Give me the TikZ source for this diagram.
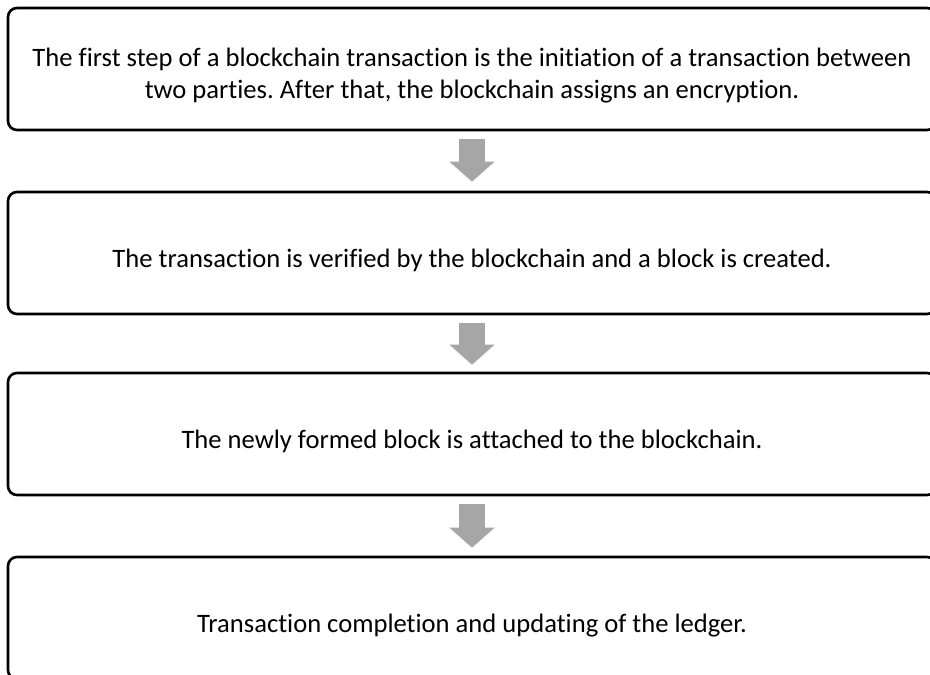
\documentclass[tikz,border=0pt]{standalone}
\usepackage{fontspec}
\setmainfont{Carlito}[Ligatures=NoCommon]
\usetikzlibrary{arrows.meta}
\definecolor{arrowgray}{HTML}{A6A6A6}
\frenchspacing
\begin{document}
\begin{tikzpicture}[x=1pt, y=1pt,
  font=\fontsize{26.6}{32}\selectfont,
  box/.style={draw, line width=2.6pt, rounded corners=9pt, align=center,
              minimum width=928pt, minimum height=122pt, inner sep=0pt,
              execute at begin node={\rule{0pt}{#1}}},
  box/.default=33pt,
  flow/.style={draw=arrowgray, line width=26pt,
               -{Triangle[width=44pt, length=20pt, fill=arrowgray]}}]

\useasboundingbox (0,0) rectangle (930,-675);
\clip (0,0) rectangle (930,-675);

\node[box=64pt] (init) at (472,-69) {The first step of a blockchain transaction is the initiation of a transaction between\\ two parties. After that, the blockchain assigns an encryption.};
\node[box] (verify) at (472,-253) {The transaction is verified by the blockchain and a block is created.};
\node[box] (attach) at (472,-434) {The newly formed block is attached to the blockchain.};
\node[box] (ledger) at (472,-618) {Transaction completion and updating of the ledger.};

\draw[flow] ([yshift=-8pt]init.south)   -- ([yshift=9pt]verify.north);
\draw[flow] ([yshift=-8pt]verify.south) -- ([yshift=7pt]attach.north);
\draw[flow] ([yshift=-8pt]attach.south) -- ([yshift=8pt]ledger.north);
\end{tikzpicture}
\end{document}
